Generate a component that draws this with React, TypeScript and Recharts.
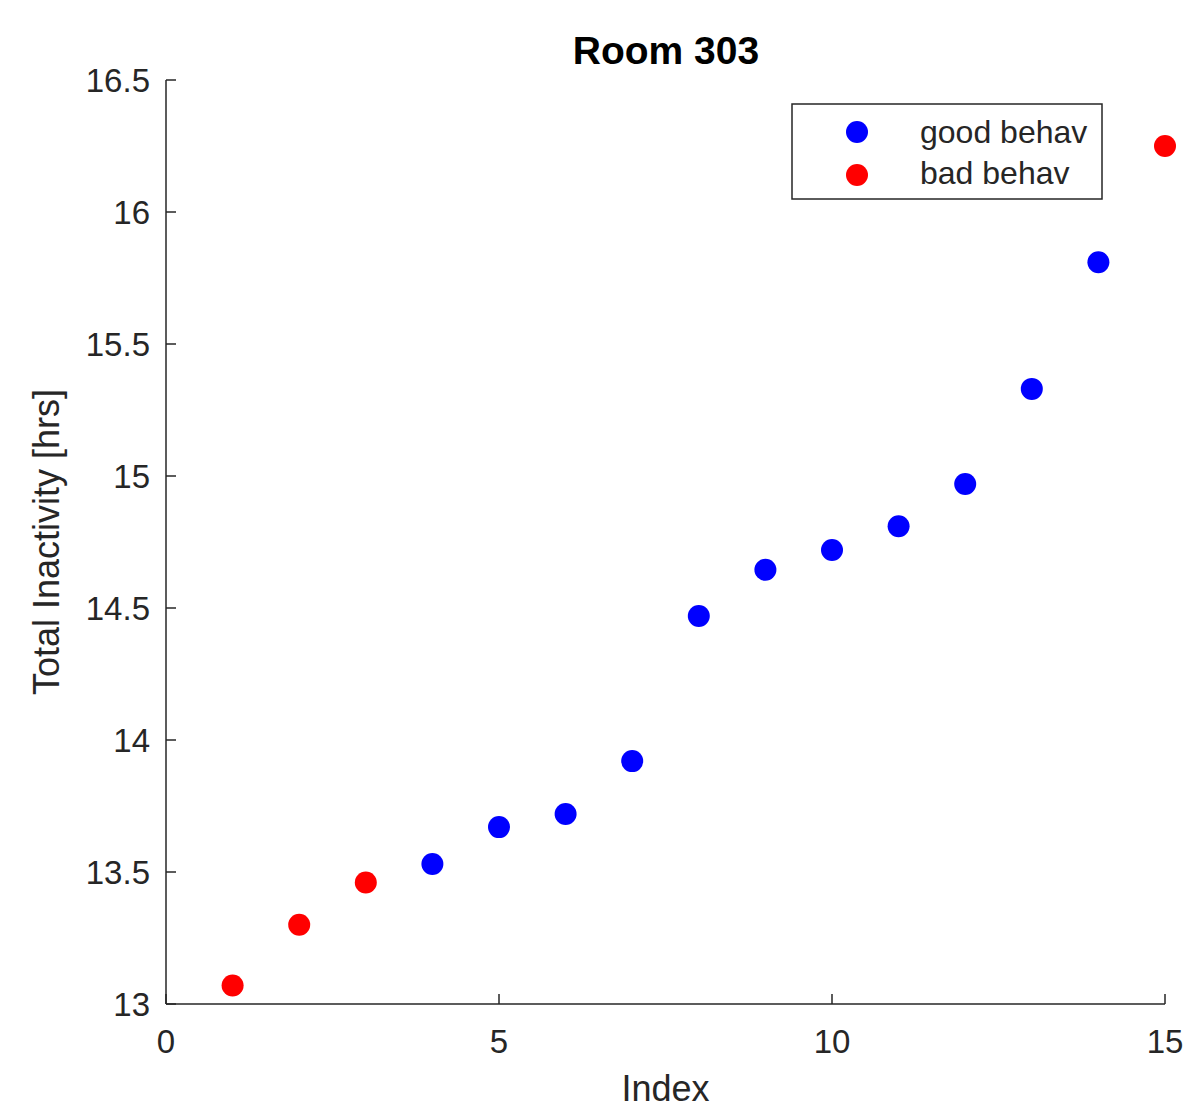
import React from 'react';
import { ScatterChart, Scatter, XAxis, YAxis, Legend, Label, Customized } from 'recharts';

const indices = [1, 2, 3, 4, 5, 6, 7, 8, 9, 10, 11, 12, 13, 14, 15];
const inactivity = [13.07, 13.3, 13.46, 13.53, 13.67, 13.72, 13.92, 14.47, 14.645, 14.72, 14.81, 14.97, 15.33, 15.81, 16.25];
const badIndices = [1, 2, 3, 15];
const xTicks = [0, 5, 10, 15];
const yTicks = [13, 13.5, 14, 14.5, 15, 15.5, 16, 16.5];

const goodData = indices
    .map((idx, i) => ({ idx, hrs: inactivity[i] }))
    .filter((d) => !badIndices.includes(d.idx));
const badData = indices
    .map((idx, i) => ({ idx, hrs: inactivity[i] }))
    .filter((d) => badIndices.includes(d.idx));

const FONT = '"Liberation Sans", Arial, Helvetica, sans-serif';
const AXIS = '#262626';

const XTick = (props: any) => {
    const { x, y, payload } = props;
    return (
        <g>
            <line x1={x} y1={y} x2={x} y2={y - 10} stroke={AXIS} strokeWidth={1.5} />
            <text x={x} y={y + 49} textAnchor="middle" fontSize={33} fill={AXIS} fontFamily={FONT}>
                {payload.value}
            </text>
        </g>
    );
};

const YTick = (props: any) => {
    const { x, y, payload } = props;
    return (
        <g>
            <line x1={x} y1={y} x2={x + 10} y2={y} stroke={AXIS} strokeWidth={1.5} />
            <text x={x - 16} y={y + 12} textAnchor="end" fontSize={33} fill={AXIS} fontFamily={FONT}>
                {payload.value}
            </text>
        </g>
    );
};

const Dot = (color: string) => (p: any) => <circle cx={p.cx} cy={p.cy} r={11} fill={color} />;

const LegendBox = () => (
    <svg width={312} height={97} style={{ display: 'block' }}>
        <rect x={1} y={1} width={310} height={95} fill="#fff" stroke={AXIS} strokeWidth={1.5} />
        <circle cx={66} cy={29} r={11} fill="#0000ff" />
        <circle cx={66} cy={72} r={11} fill="#ff0000" />
        <text x={129} y={40} fontSize={32} fill={AXIS} fontFamily={FONT}>good behav</text>
        <text x={129} y={81} fontSize={32} fill={AXIS} fontFamily={FONT}>bad behav</text>
    </svg>
);

const Title = () => (
    <text x={666} y={64} textAnchor="middle" fontSize={39} fontWeight="bold" fill="#000" fontFamily={FONT}>
        Room 303
    </text>
);

export default function App() {
    return (
        <div style={{ position: 'absolute', left: 0, top: 0, background: '#fff' }}>
            <ScatterChart width={1190} height={1111} margin={{ top: 80, right: 25, bottom: 0, left: 0 }}>
                <XAxis
                    type="number"
                    dataKey="idx"
                    domain={[0, 15]}
                    ticks={xTicks}
                    height={107}
                    tickLine={false}
                    tickSize={0}
                    tickMargin={0}
                    tick={<XTick />}
                    axisLine={{ stroke: AXIS, strokeWidth: 1.5 }}
                >
                    <Label
                        value="Index"
                        position="insideBottom"
                        offset={10}
                        style={{ fontSize: 36, fill: AXIS, fontFamily: FONT }}
                    />
                </XAxis>
                <YAxis
                    type="number"
                    dataKey="hrs"
                    domain={[13, 16.5]}
                    ticks={yTicks}
                    width={166}
                    tickLine={false}
                    tickSize={0}
                    tickMargin={0}
                    tick={<YTick />}
                    axisLine={{ stroke: AXIS, strokeWidth: 1.5 }}
                >
                    <Label
                        content={(p: any) => {
                            const vb = p.viewBox;
                            const cx = 59;
                            const cy = vb.y + vb.height / 2;
                            return (
                                <text
                                    x={cx}
                                    y={cy}
                                    transform={`rotate(-90 ${cx} ${cy})`}
                                    textAnchor="middle"
                                    fontSize={36}
                                    fill={AXIS}
                                    fontFamily={FONT}
                                >
                                    Total Inactivity [hrs]
                                </text>
                            );
                        }}
                    />
                </YAxis>
                <Legend
                    layout="horizontal"
                    verticalAlign="middle"
                    align="center"
                    content={<LegendBox />}
                    wrapperStyle={{ left: 791, top: 103, width: 312, height: 97 }}
                />
                <Scatter name="good behav" data={goodData} fill="#0000ff" shape={Dot('#0000ff')} isAnimationActive={false} />
                <Scatter name="bad behav" data={badData} fill="#ff0000" shape={Dot('#ff0000')} isAnimationActive={false} />
                <Customized component={Title} />
            </ScatterChart>
        </div>
    );
}
